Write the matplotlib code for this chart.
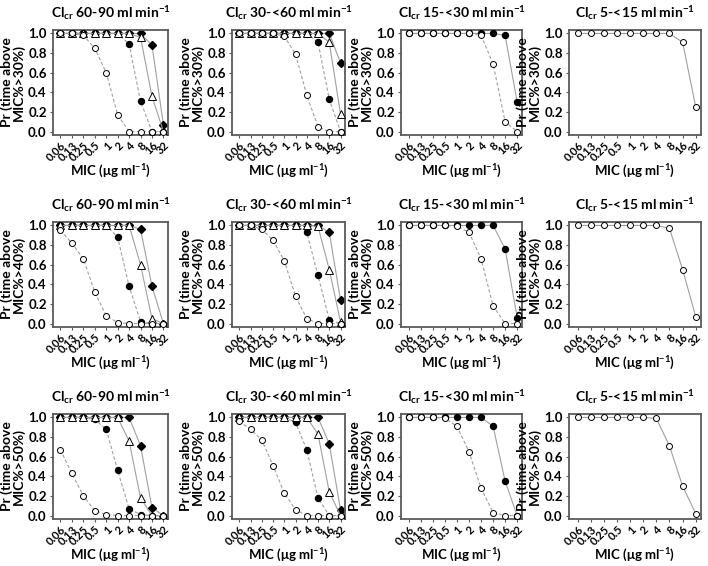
import matplotlib
matplotlib.use("Agg")
import matplotlib.pyplot as plt
import numpy as np

plt.rcParams['font.family'] = ['Lato', 'DejaVu Sans']
plt.rcParams['font.weight'] = 'bold'
plt.rcParams['mathtext.fontset'] = 'custom'
plt.rcParams['mathtext.rm'] = 'Lato:bold'
plt.rcParams['mathtext.it'] = 'Lato:bold'
plt.rcParams['mathtext.bf'] = 'Lato:bold'
plt.rcParams['mathtext.default'] = 'rm'

mic_labels = ['0.06', '0.13', '0.25', '0.5', '1', '2', '4', '8', '16', '32']
col_titles = ['60-90', '30-<60', '15-<30', '5-<15']
row_targets = ['30', '40', '50']

# ---- Row: time above MIC > 30% ----
r30_c1_open   = [1.00, 1.00, 0.98, 0.85, 0.60, 0.17, 0.00, 0.00, 0.00, 0.00]
r30_c1_filled = [1.00, 1.00, 1.00, 1.00, 1.00, 1.00, 0.89, 0.31, 0.00, 0.00]
r30_c1_tri    = [1.00, 1.00, 1.00, 1.00, 1.00, 1.00, 1.00, 0.96, 0.36, 0.00]
r30_c1_dia    = [1.00, 1.00, 1.00, 1.00, 1.00, 1.00, 1.00, 1.00, 0.88, 0.07]
r30_c2_open   = [1.00, 1.00, 1.00, 1.00, 0.97, 0.79, 0.37, 0.05, 0.00, 0.00]
r30_c2_filled = [1.00, 1.00, 1.00, 1.00, 1.00, 1.00, 1.00, 0.91, 0.33, 0.00]
r30_c2_tri    = [1.00, 1.00, 1.00, 1.00, 1.00, 1.00, 1.00, 1.00, 0.91, 0.18]
r30_c2_dia    = [1.00, 1.00, 1.00, 1.00, 1.00, 1.00, 1.00, 1.00, 1.00, 0.70]
r30_c3_open   = [1.00, 1.00, 1.00, 1.00, 1.00, 1.00, 0.98, 0.69, 0.10, 0.00]
r30_c3_filled = [1.00, 1.00, 1.00, 1.00, 1.00, 1.00, 1.00, 1.00, 0.98, 0.30]
r30_c4_open   = [1.00, 1.00, 1.00, 1.00, 1.00, 1.00, 1.00, 1.00, 0.91, 0.25]

# ---- Row: time above MIC > 40% ----
r40_c1_open   = [0.95, 0.82, 0.66, 0.32, 0.08, 0.01, 0.00, 0.00, 0.00, 0.00]
r40_c1_filled = [1.00, 1.00, 1.00, 1.00, 1.00, 0.88, 0.38, 0.02, 0.00, 0.00]
r40_c1_tri    = [1.00, 1.00, 1.00, 1.00, 1.00, 1.00, 1.00, 0.60, 0.05, 0.00]
r40_c1_dia    = [1.00, 1.00, 1.00, 1.00, 1.00, 1.00, 1.00, 0.96, 0.38, 0.00]
r40_c2_open   = [1.00, 1.00, 0.96, 0.85, 0.64, 0.28, 0.05, 0.00, 0.00, 0.00]
r40_c2_filled = [1.00, 1.00, 1.00, 1.00, 1.00, 1.00, 0.93, 0.49, 0.04, 0.00]
r40_c2_tri    = [1.00, 1.00, 1.00, 1.00, 1.00, 1.00, 1.00, 0.99, 0.55, 0.02]
r40_c2_dia    = [1.00, 1.00, 1.00, 1.00, 1.00, 1.00, 1.00, 1.00, 0.93, 0.24]
r40_c3_open   = [1.00, 1.00, 1.00, 1.00, 0.99, 0.93, 0.66, 0.18, 0.00, 0.00]
r40_c3_filled = [1.00, 1.00, 1.00, 1.00, 1.00, 1.00, 1.00, 1.00, 0.76, 0.06]
r40_c4_open   = [1.00, 1.00, 1.00, 1.00, 1.00, 1.00, 1.00, 0.97, 0.55, 0.07]

# ---- Row: time above MIC > 50% ----
r50_c1_open   = [0.67, 0.43, 0.20, 0.05, 0.01, 0.00, 0.00, 0.00, 0.00, 0.00]
r50_c1_filled = [1.00, 1.00, 1.00, 0.98, 0.88, 0.46, 0.07, 0.01, 0.00, 0.00]
r50_c1_tri    = [1.00, 1.00, 1.00, 1.00, 1.00, 1.00, 0.76, 0.18, 0.00, 0.00]
r50_c1_dia    = [1.00, 1.00, 1.00, 1.00, 1.00, 1.00, 1.00, 0.71, 0.08, 0.00]
r50_c2_open   = [0.96, 0.88, 0.77, 0.51, 0.23, 0.06, 0.00, 0.00, 0.00, 0.00]
r50_c2_filled = [1.00, 1.00, 1.00, 1.00, 1.00, 0.95, 0.67, 0.18, 0.00, 0.00]
r50_c2_tri    = [1.00, 1.00, 1.00, 1.00, 1.00, 1.00, 1.00, 0.83, 0.24, 0.00]
r50_c2_dia    = [1.00, 1.00, 1.00, 1.00, 1.00, 1.00, 1.00, 1.00, 0.73, 0.06]
r50_c3_open   = [1.00, 1.00, 1.00, 0.99, 0.91, 0.65, 0.28, 0.03, 0.00, 0.00]
r50_c3_filled = [1.00, 1.00, 1.00, 1.00, 1.00, 1.00, 1.00, 0.91, 0.35, 0.00]
r50_c4_open   = [1.00, 1.00, 1.00, 1.00, 1.00, 1.00, 0.99, 0.71, 0.30, 0.02]

panels = [
    [
        dict(dia=r30_c1_dia, tri=r30_c1_tri, filled=r30_c1_filled, open=r30_c1_open),
        dict(dia=r30_c2_dia, tri=r30_c2_tri, filled=r30_c2_filled, open=r30_c2_open),
        dict(filled=r30_c3_filled, open=r30_c3_open),
        dict(open=r30_c4_open),
    ],
    [
        dict(dia=r40_c1_dia, tri=r40_c1_tri, filled=r40_c1_filled, open=r40_c1_open),
        dict(dia=r40_c2_dia, tri=r40_c2_tri, filled=r40_c2_filled, open=r40_c2_open),
        dict(filled=r40_c3_filled, open=r40_c3_open),
        dict(open=r40_c4_open),
    ],
    [
        dict(dia=r50_c1_dia, tri=r50_c1_tri, filled=r50_c1_filled, open=r50_c1_open),
        dict(dia=r50_c2_dia, tri=r50_c2_tri, filled=r50_c2_filled, open=r50_c2_open),
        dict(filled=r50_c3_filled, open=r50_c3_open),
        dict(open=r50_c4_open),
    ],
]

W, H = 708, 566
fig = plt.figure(figsize=(W / 100, H / 100), dpi=100)

col_px = [(53, 168), (232, 345), (401, 522), (569, 701)]
row_px = [(30, 135), (222, 327), (414, 519)]

line_col = '#a0a0a0'
frame_col = '#5a5a5a'
x = np.arange(len(mic_labels))

for r in range(3):
    for c in range(4):
        x0, x1 = col_px[c]
        y0, y1 = row_px[r]
        ax = fig.add_axes([x0 / W, 1 - y1 / H, (x1 - x0) / W, (y1 - y0) / H])
        p = panels[r][c]
        ms = 4.3
        open_ls = '-' if c == 3 else (0, (3, 2))
        filled_ls = '-' if c == 2 else (0, (3, 2))
        if 'dia' in p:
            ax.plot(x, p['dia'], color=line_col, lw=0.8, ls='-', marker='D', ms=ms - 0.5,
                    mfc='black', mec='black', zorder=2)
        if 'filled' in p:
            ax.plot(x, p['filled'], color=line_col, lw=0.8, ls=filled_ls, marker='o', ms=ms,
                    mfc='black', mec='black', zorder=3)
        if 'tri' in p:
            ax.plot(x, p['tri'], color=line_col, lw=0.8, ls='-', marker='^', ms=ms + 0.8,
                    mfc='white', mec='black', mew=0.7, zorder=4)
        ax.plot(x, p['open'], color=line_col, lw=0.8, ls=open_ls, marker='o', ms=ms,
                mfc='white', mec='black', mew=0.7, zorder=5)

        ax.set_xlim(-0.65, 9.4)
        ax.set_ylim(-0.035, 1.035)
        ax.set_yticks([0.0, 0.2, 0.4, 0.6, 0.8, 1.0])
        ax.set_yticklabels(['0.0', '0.2', '0.4', '0.6', '0.8', '1.0'], fontsize=9.5, fontweight='bold')
        ax.set_xticks(x)
        ax.set_xticklabels(mic_labels, rotation=45, ha='right', rotation_mode='anchor',
                           fontsize=8, fontweight='bold')
        ax.tick_params(axis='both', length=2.5, width=0.8, color=frame_col, pad=2)
        ax.tick_params(axis='x', pad=1)
        for s in ax.spines.values():
            s.set_color(frame_col)
            s.set_linewidth(1.3)
        ax.set_title(r'Cl$_{cr}$ ' + col_titles[c] + r' ml min$^{-1}$', fontsize=10,
                     fontweight='bold', pad=9)
        ax.set_ylabel('Pr (time above\nMIC%>' + row_targets[r] + '%)', fontsize=10,
                      fontweight='bold', labelpad=2, linespacing=0.95)
        ax.set_xlabel(r'MIC (μg ml$^{-1}$)', fontsize=9.5, fontweight='bold')
        ax.xaxis.set_label_coords(0.5, -0.27)

fig.savefig('out.png', dpi=100, facecolor='white')
